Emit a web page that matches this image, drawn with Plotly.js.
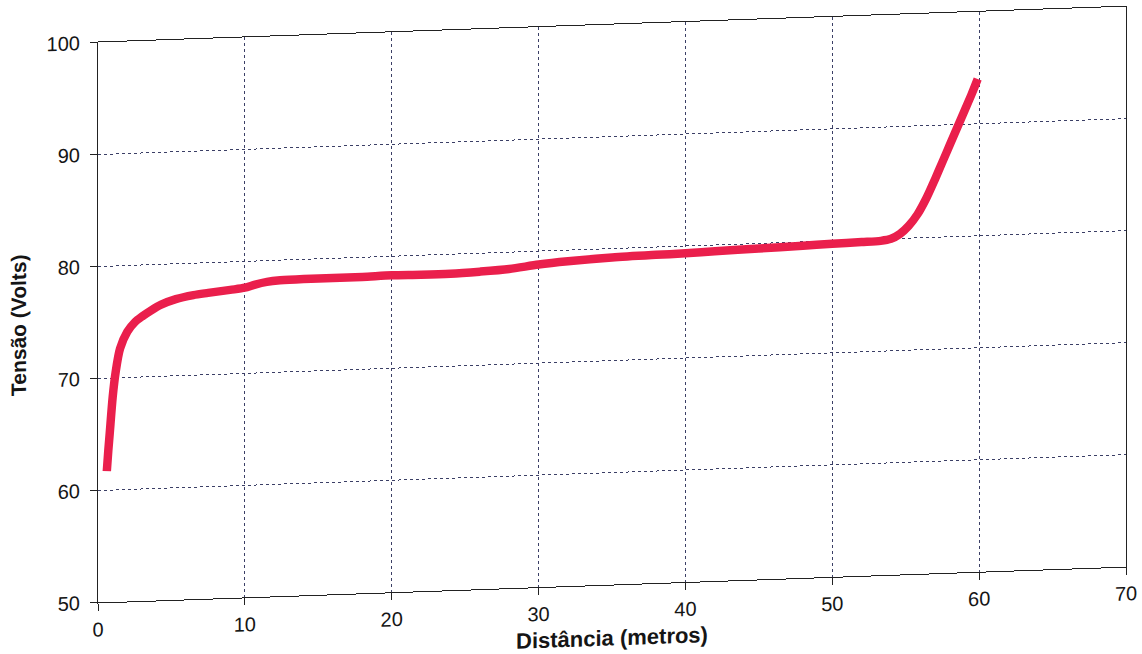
<!DOCTYPE html>
<html>
<head>
<meta charset="utf-8">
<script src="https://cdn.plot.ly/plotly-3.0.1.min.js"></script>
<style>
  html, body { margin: 0; padding: 0; background: #ffffff; overflow: hidden; }
  #chart { width: 1142px; height: 654px; transform: skewY(-2deg); transform-origin: 50% 50%; }
</style>
</head>
<body>
<div id="chart"></div>
<script>
// Distância (metros) along the cable
const distancia = [0.6, 0.7, 0.8, 1.0, 1.2, 1.5, 2.0, 2.5, 3.0, 3.6, 4.3, 5.3, 6.5, 7.5, 9.0, 10.0, 10.7, 11.5, 12.4, 14, 16, 18, 20, 22, 24, 26, 28, 30, 32, 35, 38, 40, 42, 45, 48, 50, 52, 53.3, 54.0, 54.6, 55.2, 55.8, 56.4, 57, 57.5, 58, 58.5, 59, 59.5, 59.9];
// Tensão (Volts)
const tensao = [61.7, 63.5, 65.1, 68.3, 70.5, 72.6, 74.1, 74.9, 75.4, 75.9, 76.4, 76.85, 77.15, 77.3, 77.5, 77.65, 77.9, 78.1, 78.2, 78.25, 78.25, 78.25, 78.3, 78.25, 78.25, 78.35, 78.5, 78.8, 79.0, 79.2, 79.3, 79.35, 79.45, 79.55, 79.65, 79.75, 79.8, 79.85, 80.0, 80.4, 81.1, 82.1, 83.5, 85.2, 86.7, 88.2, 89.7, 91.2, 92.7, 94.0];

const xTicks = [0, 10, 20, 30, 40, 50, 60, 70];
const yTicks = [50, 60, 70, 80, 90, 100];

const xTitle = 'Distância (metros)';
const yTitle = 'Tensão (Volts)';

const trace = {
  x: distancia,
  y: tensao,
  type: 'scatter',
  mode: 'lines',
  line: { color: '#ea1f4c', width: 8.5, shape: 'spline', smoothing: 0.8 },
  hoverinfo: 'x+y'
};

const axisCommon = {
  showline: true,
  mirror: true,
  linecolor: '#222222',
  linewidth: 1,
  ticks: 'outside',
  ticklen: 7,
  tickcolor: '#222222',
  showgrid: true,
  gridcolor: '#3b3f66',
  gridwidth: 1,
  griddash: 'dot',
  zeroline: false,
  tickfont: { family: 'Liberation Sans, Arial, sans-serif', size: 20, color: '#151515' }
};

const layout = {
  width: 1142,
  height: 654,
  margin: { l: 98, r: 16, t: 26, b: 68 },
  paper_bgcolor: '#ffffff',
  plot_bgcolor: '#ffffff',
  showlegend: false,
  font: { family: 'Liberation Sans, Arial, sans-serif', color: '#151515' },
  xaxis: Object.assign({}, axisCommon, {
    range: [0, 70],
    tickvals: xTicks,
    ticktext: xTicks.map(String),
    ticklabelstandoff: 2,
    title: { text: '<b>' + xTitle + '</b>', font: { size: 22, color: '#151515' }, standoff: 8 }
  }),
  yaxis: Object.assign({}, axisCommon, {
    range: [50, 100],
    tickvals: yTicks,
    ticktext: yTicks.map(String),
    ticklabelstandoff: 6,
    title: { text: '<b>' + yTitle + '</b>', font: { size: 21, color: '#151515' }, standoff: 14 }
  })
};

Plotly.newPlot('chart', [trace], layout, { staticPlot: true, displayModeBar: false });
</script>
</body>
</html>
